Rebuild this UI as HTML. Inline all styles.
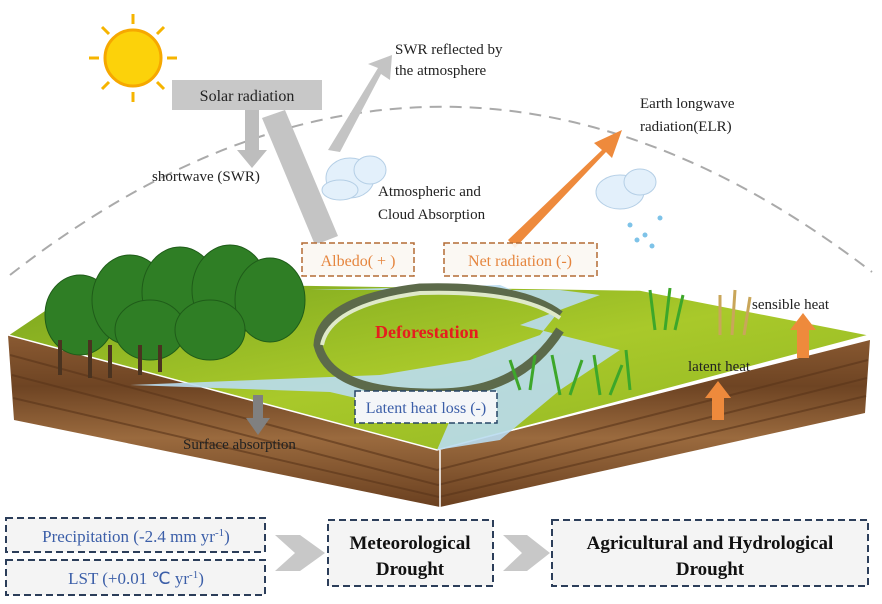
<!DOCTYPE html>
<html><head><meta charset="utf-8"><style>
body{margin:0;background:#fff}
svg{display:block}
text{font-family:"Liberation Serif",serif}
</style></head><body>
<svg width="882" height="604" viewBox="0 0 882 604" xmlns="http://www.w3.org/2000/svg">
<defs>
<linearGradient id="brown" x1="0" y1="0" x2="0" y2="1">
<stop offset="0" stop-color="#8a5a32"/><stop offset=".3" stop-color="#6e4423"/><stop offset=".6" stop-color="#9a6a3e"/><stop offset="1" stop-color="#6a4020"/></linearGradient>
<linearGradient id="grass" x1="0" y1="0" x2="1" y2="1">
<stop offset="0" stop-color="#7aa51e"/><stop offset=".5" stop-color="#a9c92a"/><stop offset="1" stop-color="#8fb422"/></linearGradient>
<marker id="ga" markerWidth="4" markerHeight="4" refX="2" refY="2" orient="auto"><path d="M0,0L4,2L0,4z" fill="#bbb"/></marker>
</defs>
<!-- dashed arc -->
<path d="M10,275 Q440,-60 872,272" fill="none" stroke="#aaa" stroke-width="2" stroke-dasharray="12,8"/>
<!-- sun -->
<g transform="translate(133,58)">
<g stroke="#f6b400" stroke-width="3">
<line x1="0" y1="-44" x2="0" y2="-34"/><line x1="0" y1="44" x2="0" y2="34"/><line x1="-44" y1="0" x2="-34" y2="0"/><line x1="44" y1="0" x2="34" y2="0"/>
<line x1="31" y1="31" x2="24" y2="24"/><line x1="-31" y1="31" x2="-24" y2="24"/><line x1="31" y1="-31" x2="24" y2="-24"/><line x1="-31" y1="-31" x2="-24" y2="-24"/>
</g>
<circle r="28" fill="#fcd20a" stroke="#f6a800" stroke-width="3"/></g>
<!-- gray arrows -->
<path d="M245,110 L245,150 L237,150 L252,168 L267,150 L259,150 L259,110z" fill="#bdbdbd"/>
<path d="M262,118 L315,245 L338,236 L285,110z" fill="#c4c4c4"/>
<path d="M328,150 L378,68 L368,64 L392,55 L390,80 L381,74 L340,152z" fill="#c4c4c4"/>
<rect x="172" y="80" width="150" height="30" fill="#c8c8c8"/>
<text x="247" y="101" font-size="16" text-anchor="middle" fill="#222">Solar radiation</text>
<text x="152" y="181" font-size="15" fill="#222">shortwave (SWR)</text>
<text x="395" y="54" font-size="15" fill="#222">SWR reflected by</text>
<text x="395" y="75" font-size="15" fill="#222">the atmosphere</text>
<!-- clouds -->
<g fill="#e3f0fb" stroke="#b5cfe6"><ellipse cx="350" cy="178" rx="24" ry="20"/><ellipse cx="370" cy="170" rx="16" ry="14"/><ellipse cx="340" cy="190" rx="18" ry="10"/></g>
<text x="378" y="196" font-size="15" fill="#222">Atmospheric and</text>
<text x="378" y="219" font-size="15" fill="#222">Cloud Absorption</text>
<g fill="#e3f0fb" stroke="#b5cfe6"><ellipse cx="620" cy="192" rx="24" ry="17"/><ellipse cx="640" cy="182" rx="16" ry="13"/></g>
<g fill="#7ec3e8"><circle cx="630" cy="225" r="2.5"/><circle cx="645" cy="235" r="2.5"/><circle cx="660" cy="218" r="2.5"/><circle cx="652" cy="246" r="2.5"/><circle cx="637" cy="240" r="2.5"/></g>
<!-- orange arrow ELR -->
<path d="M508,240 L602,150 L594,143 L622,130 L612,158 L606,152 L515,248z" fill="#ee8a3c"/>
<text x="640" y="108" font-size="15" fill="#222">Earth longwave</text>
<text x="640" y="131" font-size="15" fill="#222">radiation(ELR)</text>
<!-- land -->
<path d="M8,335 L437,450 L870,340 L865,413 L440,507 L14,420z" fill="url(#brown)"/>
<g stroke="#5a351a" stroke-width="2" fill="none" opacity=".6">
<path d="M10,355 L437,470 L868,360"/><path d="M12,375 L438,485 L867,378"/><path d="M13,398 L439,497 L866,396"/></g>
<path d="M8,335 L60,300 L300,285 L640,290 L870,335 L437,450z" fill="url(#grass)" stroke="#fff" stroke-width="1.5"/>
<path d="M440,450 L440,507" stroke="#fff" stroke-width="1.5"/>
<!-- river -->
<path d="M310,290 L500,285 L560,310 L540,335 L470,360 L380,375 L130,385 L330,392 L450,420 L437,450 L500,440 L560,390 L620,350 L580,340 L520,325 L600,295 L560,290z" fill="#b9dbef" opacity=".9"/>
<!-- cycle arrow -->
<path d="M560,315 Q520,285 420,288 Q320,300 318,345 Q330,395 440,393 Q520,392 560,330" fill="none" stroke="#5c6a4a" stroke-width="9"/>
<path d="M560,318 Q520,290 420,293 Q330,305 322,345" fill="none" stroke="#dfe9c9" stroke-width="4"/>
<!-- trees -->
<g fill="#2f7e25" stroke="#1f5c19">
<ellipse cx="80" cy="315" rx="35" ry="40"/><ellipse cx="130" cy="300" rx="38" ry="45"/><ellipse cx="180" cy="292" rx="38" ry="45"/><ellipse cx="230" cy="290" rx="38" ry="45"/><ellipse cx="270" cy="300" rx="35" ry="42"/><ellipse cx="150" cy="330" rx="35" ry="30"/><ellipse cx="210" cy="330" rx="35" ry="30"/></g>
<g stroke="#4a3320" stroke-width="4"><line x1="60" y1="340" x2="60" y2="375"/><line x1="90" y1="340" x2="90" y2="378"/><line x1="110" y1="345" x2="110" y2="378"/><line x1="140" y1="345" x2="140" y2="375"/><line x1="160" y1="345" x2="160" y2="372"/></g>
<!-- plants right -->
<g stroke="#3da72a" stroke-width="3" fill="none">
<path d="M520,390 l-10,-30 M530,390 l5,-35 M560,395 l-8,-40 M570,395 l12,-35 M600,395 l-6,-40 M610,395 l12,-30 M630,390 l-4,-40"/>
<path d="M655,330 l-5,-40 M665,330 l5,-42 M675,330 l8,-35"/></g>
<g stroke="#c9a65a" stroke-width="3"><path d="M720,335 l0,-40 M732,335 l3,-45 M744,335 l6,-38"/></g>
<text x="375" y="338" font-size="18" font-weight="bold" fill="#e51e1e">Deforestation</text>
<!-- heat arrows -->
<path d="M797,358 L797,330 L790,330 L803,313 L816,330 L809,330 L809,358z" fill="#ee8a3c"/>
<path d="M712,420 L712,398 L705,398 L718,381 L731,398 L724,398 L724,420z" fill="#ee8a3c"/>
<text x="752" y="309" font-size="15" fill="#222">sensible heat</text>
<text x="688" y="371" font-size="15" fill="#222">latent heat</text>
<path d="M253,395 L253,418 L246,418 L258,435 L270,418 L263,418 L263,395z" fill="#808080"/>
<text x="183" y="449" font-size="15" fill="#222">Surface absorption</text>
<!-- boxes -->
<rect x="302" y="243" width="112" height="33" fill="#fbf7f2" fill-opacity=".9" stroke="#b36b34" stroke-width="1.5" stroke-dasharray="6,3"/>
<text x="358" y="266" font-size="16" text-anchor="middle" fill="#e5853e">Albedo( + )</text>
<rect x="444" y="243" width="153" height="33" fill="#fbf7f2" fill-opacity=".9" stroke="#b36b34" stroke-width="1.5" stroke-dasharray="6,3"/>
<text x="520" y="266" font-size="16" text-anchor="middle" fill="#e5853e">Net radiation (-)</text>
<rect x="355" y="391" width="142" height="32" fill="#f4f6f8" stroke="#274566" stroke-width="1.5" stroke-dasharray="6,3"/>
<text x="426" y="413" font-size="16" text-anchor="middle" fill="#3b5ea8">Latent heat loss (-)</text>
<!-- bottom flow -->
<rect x="6" y="518" width="259" height="34" fill="#f4f4f4" stroke="#2c3e5a" stroke-width="2" stroke-dasharray="7,4"/>
<text x="136" y="542" font-size="17" text-anchor="middle" fill="#3b5ea8">Precipitation (-2.4 mm yr<tspan font-size="11" dy="-6">-1</tspan><tspan dy="6">)</tspan></text>
<rect x="6" y="560" width="259" height="35" fill="#f4f4f4" stroke="#2c3e5a" stroke-width="2" stroke-dasharray="7,4"/>
<text x="136" y="584" font-size="17" text-anchor="middle" fill="#3b5ea8">LST (+0.01 ℃ yr<tspan font-size="11" dy="-6">-1</tspan><tspan dy="6">)</tspan></text>
<path d="M275,535 L300,535 L325,553 L300,571 L275,571 L295,553z" fill="#c8c8c8"/>
<rect x="328" y="520" width="165" height="66" fill="#f4f4f4" stroke="#2c3e5a" stroke-width="2" stroke-dasharray="7,4"/>
<text x="410" y="549" font-size="19" font-weight="bold" text-anchor="middle" fill="#111">Meteorological</text>
<text x="410" y="575" font-size="19" font-weight="bold" text-anchor="middle" fill="#111">Drought</text>
<path d="M503,535 L527,535 L550,553 L527,571 L503,571 L522,553z" fill="#c8c8c8"/>
<rect x="552" y="520" width="316" height="66" fill="#f4f4f4" stroke="#2c3e5a" stroke-width="2" stroke-dasharray="7,4"/>
<text x="710" y="549" font-size="19" font-weight="bold" text-anchor="middle" fill="#111">Agricultural and Hydrological</text>
<text x="710" y="575" font-size="19" font-weight="bold" text-anchor="middle" fill="#111">Drought</text>
</svg>
</body></html>
